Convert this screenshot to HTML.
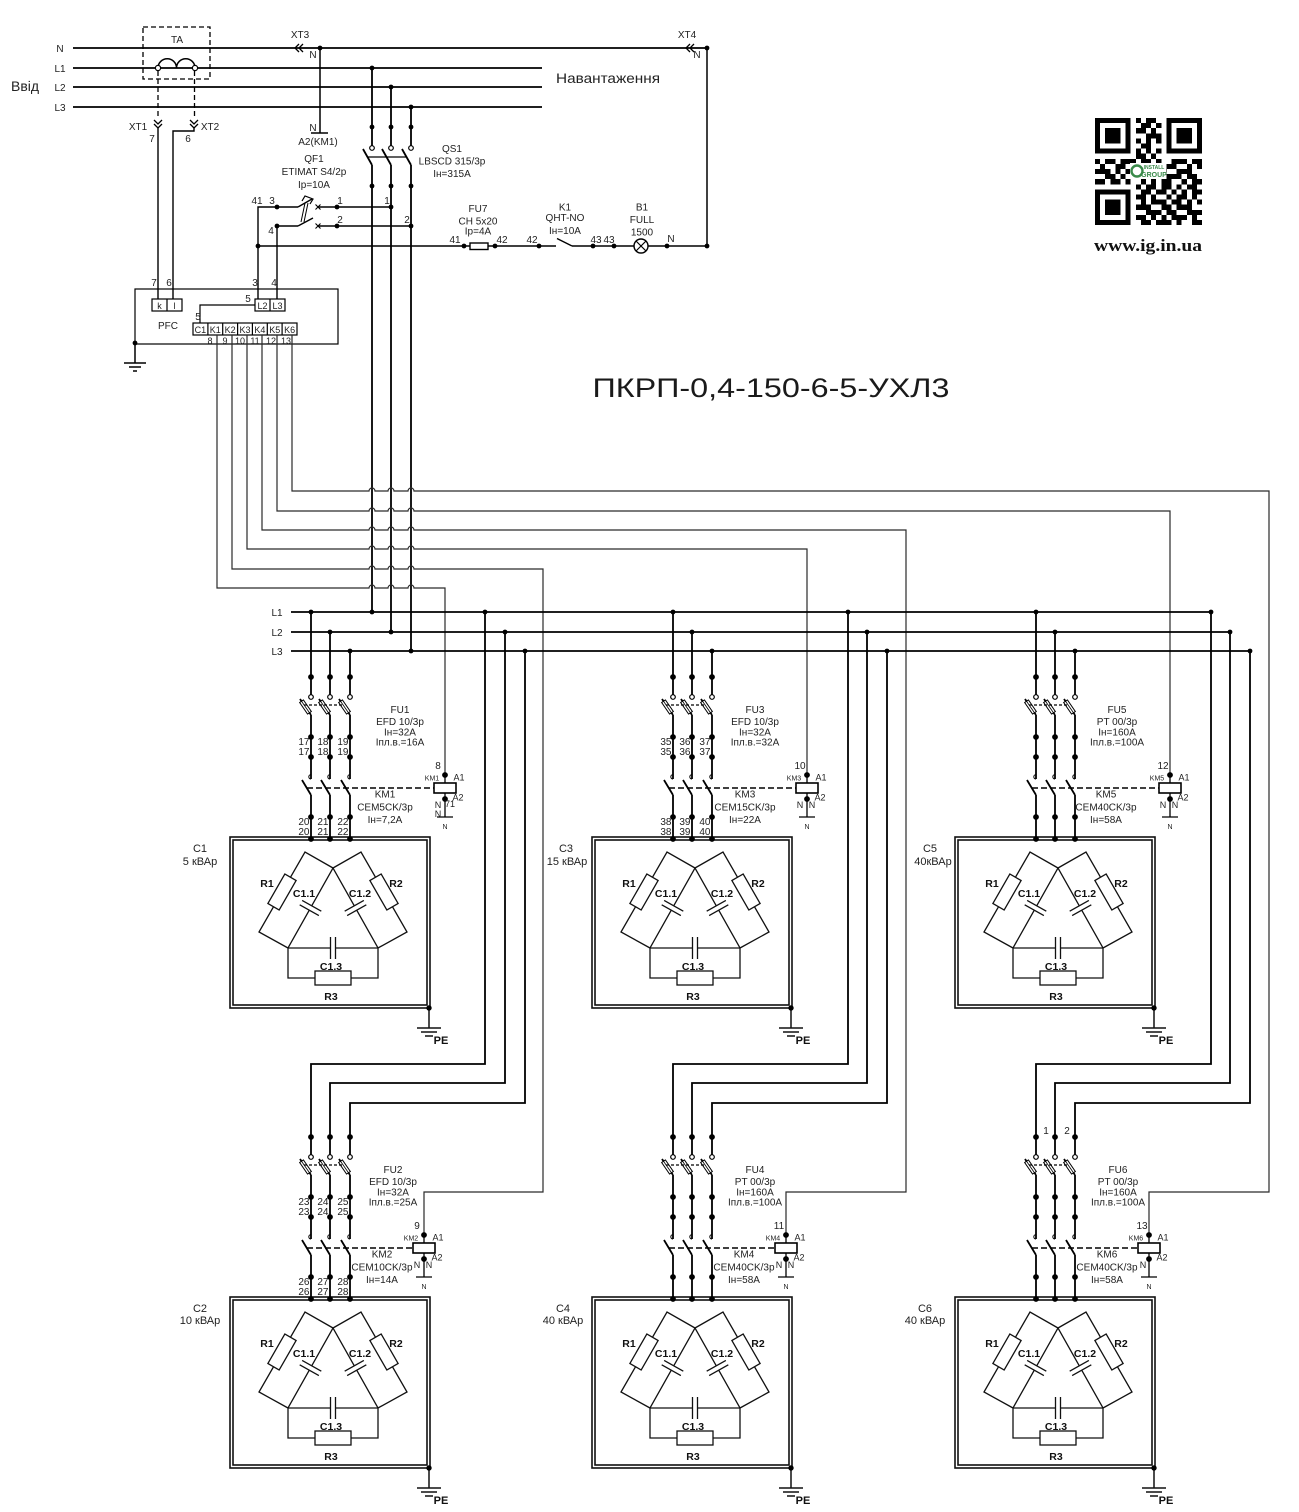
<!DOCTYPE html>
<html><head><meta charset="utf-8"><style>
html,body{margin:0;padding:0;background:#fff;}
svg{display:block;}
text{font-family:"Liberation Sans Narrow","Liberation Sans","DejaVu Sans Condensed",sans-serif;fill:#222;font-size:10px;text-anchor:middle;}
.b{font-weight:bold;font-family:"Liberation Sans",sans-serif;font-size:10.5px;fill:#111;}
.s{font-size:7px;}
.m{font-size:9px;}
.e{text-anchor:end;}
.st{text-anchor:start;}
</style></head><body>
<svg width="1299" height="1512" viewBox="0 0 1299 1512" xmlns="http://www.w3.org/2000/svg">
<rect width="1299" height="1512" fill="#fff"/>
<defs>
<circle id="d" r="2.4" fill="#000"/>
<g id="box" fill="none" stroke="#111">
 <rect x="-81" y="0" width="200" height="171" stroke-width="1.6"/>
 <rect x="-78" y="3" width="194" height="165" stroke-width="1.6"/>
 <path d="M118,171 V191 M106,191 H130 M110,195 H126 M114,199 H122" stroke-width="1.5"/>
 <circle cx="118" cy="171" r="2.7" fill="#000" stroke="none"/>
 <g stroke-width="1.3">
  <path d="M22,31 L-6,15 L-52,95 L-23,111 M22,31 L50,15 L96,95 L67,111 M-23,111 V141 H67 V111"/>
  <g transform="translate(-0.5,71) rotate(119.36)"><path d="M-46,0 H-2.5 M2.5,0 H46 M-2.5,-11 V11 M2.5,-11 V11"/></g>
  <g transform="translate(44.5,71) rotate(60.64)"><path d="M-46,0 H-2.5 M2.5,0 H46 M-2.5,-11 V11 M2.5,-11 V11"/></g>
  <path d="M-23,111 H19.5 M24.5,111 H67 M19.5,100 V122 M24.5,100 V122"/>
  <rect x="-17" y="-6.5" width="34" height="13" fill="#fff" transform="translate(-29,55) rotate(119.9)"/>
  <rect x="-17" y="-6.5" width="34" height="13" fill="#fff" transform="translate(73,55) rotate(60.1)"/>
  <rect x="4" y="134" width="36" height="14" fill="#fff"/>
 </g>
</g>
<g id="fz" stroke="#000"><rect x="-7" y="-2.3" width="14" height="4.6" fill="#fff" stroke-width="1"/><path d="M-7,0 H7" stroke-width="0.8"/></g>
<g id="sw" stroke="#000" fill="none">
 <path stroke-width="1.8" d="M0,-122 V-58 M-11,-138 L0,-122 M-9,-57 L0,-42 M0,-42 V0 M19,-122 V-58 M8,-138 L19,-122 M10,-57 L19,-42 M19,-42 V0 M39,-122 V-58 M28,-138 L39,-122 M30,-57 L39,-42 M39,-42 V0"/>
 <path stroke-width="1" d="M0,-58 a2.2,2.2 0 0 1 0,-4.4 M19,-58 a2.2,2.2 0 0 1 0,-4.4 M39,-58 a2.2,2.2 0 0 1 0,-4.4"/>
 <use href="#fz" transform="translate(-5.5,-130) rotate(55.5)"/>
 <use href="#fz" transform="translate(13.5,-130) rotate(55.5)"/>
 <use href="#fz" transform="translate(33.5,-130) rotate(55.5)"/>
 <path d="M-7,-132 H32" stroke-width="1.3" stroke-dasharray="3,2"/>
 <circle cx="0" cy="-140" r="2.3" fill="#fff" stroke-width="1.2"/>
 <circle cx="19" cy="-140" r="2.3" fill="#fff" stroke-width="1.2"/>
 <circle cx="39" cy="-140" r="2.3" fill="#fff" stroke-width="1.2"/>
 <use href="#d" x="0" y="-160"/><use href="#d" x="19" y="-160"/><use href="#d" x="39" y="-160"/>
 <use href="#d" x="0" y="-100"/><use href="#d" x="19" y="-100"/><use href="#d" x="39" y="-100"/>
 <use href="#d" x="0" y="-80"/><use href="#d" x="19" y="-80"/><use href="#d" x="39" y="-80"/>
 <use href="#d" x="0" y="-20"/><use href="#d" x="19" y="-20"/><use href="#d" x="39" y="-20"/>
 <use href="#d" x="0" y="2"/><use href="#d" x="19" y="2"/><use href="#d" x="39" y="2"/>
</g>
<g id="coil" stroke="#000" fill="none">
 <path d="M0,-62 V-54 M0,-44 V-20 M-8,-20 H8" stroke-width="1.3"/>
 <rect x="-11" y="-54" width="22" height="10" fill="#fff" stroke-width="1.6"/>
 <use href="#d" x="0" y="-62"/><use href="#d" x="0" y="-38"/>
</g>
</defs>

<!-- ===== TOP INPUT SECTION ===== -->
<g stroke="#000" stroke-width="1.8" fill="none">
 <path d="M73,48 H707 M73,68 H542 M73,87 H542 M73,107 H542"/>
 <path d="M320,48 V133 M311,133 H328" stroke-width="1.5"/>
 <path d="M707,48 V246" stroke-width="1.5"/>
 <path d="M372,68 V145.5 M391,87 V145.5 M411,107 V145.5 M363,149 L372,165 M382,149 L391,165 M402,149 L411,165 M372,165 V612 M391,165 V632 M411,165 V651"/>
 <path d="M367,157 H407" stroke-width="1.2"/>
</g>
<g stroke="#000" fill="none" stroke-width="1.3">
 <path d="M299,44 L295,48 L299,52 M303,44 L299,48 L303,52"/>
 <path d="M690,44 L686,48 L690,52 M694,44 L690,48 L694,52"/>
 <path d="M154,120 L158,124 L162,120 M154,124 L158,128 L162,124 M190,120 L194,124 L198,120 M190,124 L194,128 L198,124"/>
 <rect x="143" y="27" width="67" height="52" stroke-dasharray="5,3"/>
 <path d="M158,71 V119 M194.5,71 V119" stroke-dasharray="5,3"/>
 <path d="M158,68 a9.25,9.25 0 0 1 18.5,0 a9.25,9.25 0 0 1 18.5,0" stroke-width="1.5"/>
 <path d="M158,127 V299 M194,127 V131 H173 V299" stroke-width="1.4"/>
</g>
<circle cx="158" cy="68" r="2.6" fill="#fff" stroke="#000" stroke-width="1.2"/>
<circle cx="195" cy="68" r="2.6" fill="#fff" stroke="#000" stroke-width="1.2"/>
<use href="#d" x="320" y="48"/><use href="#d" x="707" y="48"/>
<use href="#d" x="372" y="68"/><use href="#d" x="391" y="87"/><use href="#d" x="411" y="107"/>
<use href="#d" x="372" y="127"/><use href="#d" x="391" y="127"/><use href="#d" x="411" y="127"/>
<use href="#d" x="372" y="186"/><use href="#d" x="391" y="186"/><use href="#d" x="411" y="186"/>
<circle cx="372" cy="148" r="2.3" fill="#fff" stroke="#000" stroke-width="1.2"/>
<circle cx="391" cy="148" r="2.3" fill="#fff" stroke="#000" stroke-width="1.2"/>
<circle cx="411" cy="148" r="2.3" fill="#fff" stroke="#000" stroke-width="1.2"/>

<!-- QF1 and control circuit -->
<g stroke="#000" fill="none" stroke-width="1.4">
 <path d="M258,299 V207 H298 M277,299 V226 H298"/>
 <path d="M298,207 L312,199 M298,226 L313,218"/>
 <path d="M305,203 L301,222 M308,203 L304,222" stroke-width="1"/>
 <path d="M302,201 L305,196 L313,199 L310,204" stroke-width="1.2"/>
 <path d="M315.5,204.5 L320.5,209.5 M320.5,204.5 L315.5,209.5 M315.5,223.5 L320.5,228.5 M320.5,223.5 L315.5,228.5" stroke-width="1.1"/>
 <path d="M318,207 H391 M318,226 H411"/>
 <path d="M258,246 H470 M488,246 H556 M572,246 H634 M648,246 H707"/>
 <rect x="470" y="243" width="18" height="6.5" fill="#fff"/>
 <path d="M557,238.5 L572,246"/>
 <circle cx="641" cy="246" r="7" fill="#fff"/>
 <path d="M636,241 L646,251 M646,241 L636,251" stroke-width="1.2"/>
</g>
<use href="#d" x="277" y="207"/><use href="#d" x="277" y="226"/>
<use href="#d" x="337" y="207"/><use href="#d" x="337" y="226"/>
<use href="#d" x="391" y="207"/><use href="#d" x="411" y="226"/>
<use href="#d" x="258" y="246"/><use href="#d" x="464" y="246"/><use href="#d" x="495" y="246"/>
<use href="#d" x="539" y="246"/><use href="#d" x="593" y="246"/><use href="#d" x="614" y="246"/>
<use href="#d" x="667" y="246"/><use href="#d" x="707" y="246"/>

<!-- PFC controller -->
<g stroke="#000" fill="none" stroke-width="1.2">
 <rect x="135" y="289" width="203" height="55"/>
 <rect x="152" y="299" width="30" height="12" fill="#fff"/><path d="M167,299 V311"/>
 <rect x="255" y="299" width="30" height="12" fill="#fff"/><path d="M270,299 V311"/>
 <path d="M255,305 H200 V323"/>
 <rect x="193" y="323" width="104" height="12" fill="#fff"/>
 <path d="M207.9,323 V335 M222.7,323 V335 M237.6,323 V335 M252.4,323 V335 M267.3,323 V335 M282.1,323 V335"/>
 <path d="M135,343 V363 M124,363 H146 M129,367 H141 M133,371 H137" stroke-width="1.5"/>
</g>
<use href="#d" x="135" y="343"/>

<!-- control routes with jumps -->
<g stroke="#2a2a2a" fill="none" stroke-width="1.2">
 <path d="M217,335 V588 H369 a3,3 0 0 1 6,0 H388 a3,3 0 0 1 6,0 H408 a3,3 0 0 1 6,0 H445 V775"/>
 <path d="M232,335 V569 H369 a3,3 0 0 1 6,0 H388 a3,3 0 0 1 6,0 H408 a3,3 0 0 1 6,0 H543 V1192 H424 V1235"/>
 <path d="M247,335 V549 H369 a3,3 0 0 1 6,0 H388 a3,3 0 0 1 6,0 H408 a3,3 0 0 1 6,0 H807 V775"/>
 <path d="M262,335 V530 H369 a3,3 0 0 1 6,0 H388 a3,3 0 0 1 6,0 H408 a3,3 0 0 1 6,0 H906 V1192 H786 V1235"/>
 <path d="M277,335 V511 H369 a3,3 0 0 1 6,0 H388 a3,3 0 0 1 6,0 H408 a3,3 0 0 1 6,0 H1170 V775"/>
 <path d="M292,335 V491 H369 a3,3 0 0 1 6,0 H388 a3,3 0 0 1 6,0 H408 a3,3 0 0 1 6,0 H1269 V1192 H1149 V1235"/>
</g>

<!-- Buses -->
<g stroke="#000" fill="none" stroke-width="1.8">
 <path d="M291,612 H1211 M291,632 H1230 M291,651 H1250"/>
 <!-- upper module feeds -->
 <path d="M311,612 V695 M330,632 V695 M350,651 V695"/>
 <path d="M673,612 V695 M692,632 V695 M712,651 V695"/>
 <path d="M1036,612 V695 M1055,632 V695 M1075,651 V695"/>
 <!-- lower module feeds -->
 <path d="M485,612 V1064 H311 V1155 M505,632 V1083 H330 V1155 M525,651 V1103 H350 V1155"/>
 <path d="M848,612 V1064 H673 V1155 M867,632 V1083 H692 V1155 M887,651 V1103 H712 V1155"/>
 <path d="M1211,612 V1064 H1036 V1155 M1230,632 V1083 H1055 V1155 M1250,651 V1103 H1075 V1155"/>
</g>
<g>
<use href="#d" x="311" y="612"/><use href="#d" x="372" y="612"/><use href="#d" x="485" y="612"/><use href="#d" x="673" y="612"/><use href="#d" x="848" y="612"/><use href="#d" x="1036" y="612"/><use href="#d" x="1211" y="612"/>
<use href="#d" x="330" y="632"/><use href="#d" x="391" y="632"/><use href="#d" x="505" y="632"/><use href="#d" x="692" y="632"/><use href="#d" x="867" y="632"/><use href="#d" x="1055" y="632"/><use href="#d" x="1230" y="632"/>
<use href="#d" x="350" y="651"/><use href="#d" x="411" y="651"/><use href="#d" x="525" y="651"/><use href="#d" x="712" y="651"/><use href="#d" x="887" y="651"/><use href="#d" x="1075" y="651"/><use href="#d" x="1250" y="651"/>
</g>

<!-- Modules -->
<use href="#box" x="311" y="837"/><use href="#sw" x="311" y="837"/><use href="#coil" x="445" y="837"/>
<use href="#box" x="311" y="1297"/><use href="#sw" x="311" y="1297"/><use href="#coil" x="424" y="1297"/>
<use href="#box" x="673" y="837"/><use href="#sw" x="673" y="837"/><use href="#coil" x="807" y="837"/>
<use href="#box" x="673" y="1297"/><use href="#sw" x="673" y="1297"/><use href="#coil" x="786" y="1297"/>
<use href="#box" x="1036" y="837"/><use href="#sw" x="1036" y="837"/><use href="#coil" x="1170" y="837"/>
<use href="#box" x="1036" y="1297"/><use href="#sw" x="1036" y="1297"/><use href="#coil" x="1149" y="1297"/>
<g stroke="#000" stroke-width="1.6" stroke-dasharray="6,3" fill="none">
 <path d="M307,788 H434 M307,1248 H413 M669,788 H796 M669,1248 H775 M1032,788 H1159 M1032,1248 H1138"/>
</g>

<!-- QR code -->
<g transform="translate(1095,118) scale(5.1)" fill="#000" shape-rendering="crispEdges">
<path d="M0 0h7v1h-7z M8 0h1v1h-1z M10 0h2v1h-2z M14 0h7v1h-7z
M0 1h1v1h-1z M6 1h1v1h-1z M9 1h2v1h-2z M12 1h1v1h-1z M14 1h1v1h-1z M20 1h1v1h-1z
M0 2h1v1h-1z M2 2h3v1h-3z M6 2h1v1h-1z M8 2h2v1h-2z M11 2h1v1h-1z M14 2h1v1h-1z M16 2h3v1h-3z M20 2h1v1h-1z
M0 3h1v1h-1z M2 3h3v1h-3z M6 3h1v1h-1z M10 3h3v1h-3z M14 3h1v1h-1z M16 3h3v1h-3z M20 3h1v1h-1z
M0 4h1v1h-1z M2 4h3v1h-3z M6 4h1v1h-1z M8 4h1v1h-1z M10 4h1v1h-1z M12 4h1v1h-1z M14 4h1v1h-1z M16 4h3v1h-3z M20 4h1v1h-1z
M0 5h1v1h-1z M6 5h1v1h-1z M9 5h2v1h-2z M14 5h1v1h-1z M20 5h1v1h-1z
M0 6h7v1h-7z M8 6h1v1h-1z M10 6h1v1h-1z M12 6h1v1h-1z M14 6h7v1h-7z
M8 7h2v1h-2z M11 7h1v1h-1z
M0 8h1v1h-1z M2 8h2v1h-2z M5 8h3v1h-3z M9 8h2v1h-2z M12 8h1v1h-1z M15 8h3v1h-3z M19 8h2v1h-2z
M1 9h1v1h-1z M4 9h2v1h-2z M8 9h1v1h-1z M10 9h3v1h-3z M14 9h2v1h-2z M18 9h1v1h-1z M20 9h1v1h-1z
M0 10h3v1h-3z M4 10h1v1h-1z M6 10h1v1h-1z M8 10h2v1h-2z M12 10h2v1h-2z M16 10h3v1h-3z
M2 11h2v1h-2z M5 11h1v1h-1z M7 11h2v1h-2z M10 11h2v1h-2z M14 11h3v1h-3z M18 11h2v1h-2z
M0 12h2v1h-2z M3 12h2v1h-2z M6 12h1v1h-1z M9 12h1v1h-1z M11 12h1v1h-1z M13 12h2v1h-2z M17 12h1v1h-1z M19 12h2v1h-2z
M8 13h1v1h-1z M10 13h2v1h-2z M13 13h2v1h-2z M16 13h1v1h-1z M18 13h2v1h-2z
M0 14h7v1h-7z M9 14h2v1h-2z M12 14h2v1h-2z M15 14h1v1h-1z M17 14h1v1h-1z M19 14h2v1h-2z
M0 15h1v1h-1z M6 15h1v1h-1z M8 15h2v1h-2z M11 15h1v1h-1z M14 15h1v1h-1z M16 15h2v1h-2z M19 15h1v1h-1z
M0 16h1v1h-1z M2 16h3v1h-3z M6 16h1v1h-1z M9 16h1v1h-1z M11 16h3v1h-3z M15 16h2v1h-2z M18 16h1v1h-1z M20 16h1v1h-1z
M0 17h1v1h-1z M2 17h3v1h-3z M6 17h1v1h-1z M8 17h3v1h-3z M13 17h2v1h-2z M16 17h3v1h-3z
M0 18h1v1h-1z M2 18h3v1h-3z M6 18h1v1h-1z M10 18h3v1h-3z M14 18h2v1h-2z M18 18h3v1h-3z
M0 19h1v1h-1z M6 19h1v1h-1z M8 19h2v1h-2z M11 19h1v1h-1z M13 19h1v1h-1z M15 19h3v1h-3z M19 19h1v1h-1z
M0 20h7v1h-7z M9 20h2v1h-2z M12 20h3v1h-3z M16 20h1v1h-1z M19 20h2v1h-2z"/>
</g>
<rect x="1130" y="163" width="36" height="16" fill="#fff"/>
<circle cx="1137" cy="171" r="5.5" fill="none" stroke="#3a8a4a" stroke-width="2.4"/>
<text x="1154" y="169" style="font-size:5px;fill:#3a8a4a;font-weight:bold">INSTALL</text>
<text x="1154" y="177" style="font-size:7px;fill:#3a8a4a;font-weight:bold">GROUP</text>
<text x="1148" y="251" style="font-family:'Liberation Serif',serif;font-weight:bold;font-size:17px;fill:#111" textLength="108" lengthAdjust="spacingAndGlyphs">www.ig.in.ua</text>

<!-- ===== TEXT: top ===== -->
<text x="60" y="52">N</text>
<text x="60" y="72">L1</text>
<text x="60" y="91">L2</text>
<text x="60" y="111">L3</text>
<text x="25" y="91" style="font-size:14px" textLength="28" lengthAdjust="spacingAndGlyphs">Ввід</text>
<text x="177" y="43">TA</text>
<text x="138" y="130">XT1</text>
<text x="152" y="142">7</text>
<text x="210" y="130">XT2</text>
<text x="188" y="142">6</text>
<text x="300" y="38">XT3</text>
<text x="313" y="58">N</text>
<text x="687" y="38">XT4</text>
<text x="697" y="58">N</text>
<text x="313" y="131">N</text>
<text x="318" y="145">A2(KM1)</text>
<text x="608" y="83" class="st" style="font-size:14px;text-anchor:middle" textLength="104" lengthAdjust="spacingAndGlyphs">Навантаження</text>
<text x="452" y="152">QS1</text>
<text x="452" y="164.5">LBSCD 315/3p</text>
<text x="452" y="177">Iн=315A</text>
<text x="314" y="162">QF1</text>
<text x="314" y="175">ETIMAT S4/2p</text>
<text x="314" y="188">Ip=10A</text>
<text x="257" y="204">41</text>
<text x="272" y="204">3</text>
<text x="271" y="234">4</text>
<text x="340" y="204">1</text>
<text x="387" y="204">1</text>
<text x="340" y="223">2</text>
<text x="407" y="223">2</text>
<text x="478" y="212">FU7</text>
<text x="478" y="224.5">CH 5x20</text>
<text x="478" y="234.5">Ip=4A</text>
<text x="565" y="210.5">K1</text>
<text x="565" y="221">QHT-NO</text>
<text x="565" y="234">Iн=10A</text>
<text x="642" y="210.5">B1</text>
<text x="642" y="223">FULL</text>
<text x="642" y="235.5">1500</text>
<text x="455" y="243">41</text>
<text x="502" y="243">42</text>
<text x="532" y="243">42</text>
<text x="596" y="243">43</text>
<text x="609" y="243">43</text>
<text x="671" y="242">N</text>
<text x="154" y="286">7</text>
<text x="169" y="286">6</text>
<text x="255" y="286">3</text>
<text x="274" y="286">4</text>
<text x="248" y="302">5</text>
<text x="198" y="320">5</text>
<text x="159.5" y="309" class="m">k</text>
<text x="174.5" y="309" class="m">l</text>
<text x="262.5" y="309" class="m">L2</text>
<text x="277.5" y="309" class="m">L3</text>
<text x="168" y="329">PFC</text>
<text x="200.4" y="333" class="m">C1</text>
<text x="215.3" y="333" class="m">K1</text>
<text x="230.1" y="333" class="m">K2</text>
<text x="245" y="333" class="m">K3</text>
<text x="259.9" y="333" class="m">K4</text>
<text x="274.7" y="333" class="m">K5</text>
<text x="289.6" y="333" class="m">K6</text>
<text x="210" y="344" class="m">8</text>
<text x="225" y="344" class="m">9</text>
<text x="240" y="344" class="m">10</text>
<text x="255" y="344" class="m">11</text>
<text x="271" y="344" class="m">12</text>
<text x="286" y="344" class="m">13</text>
<text x="771" y="397" style="font-size:27px;fill:#1a1a1a" textLength="357" lengthAdjust="spacingAndGlyphs">ПКРП-0,4-150-6-5-УХЛ3</text>
<text x="277" y="616">L1</text>
<text x="277" y="636">L2</text>
<text x="277" y="655">L3</text>

<!-- ===== Module C1 ===== -->
<text x="200" y="852" style="font-size:11px">C1</text>
<text x="200" y="865" style="font-size:11px">5 кВАр</text>
<text x="400" y="713">FU1</text>
<text x="400" y="725">EFD 10/3p</text>
<text x="400" y="735.5">Iн=32A</text>
<text x="400" y="745.5">Iпл.в.=16A</text>
<text x="385" y="797.5">KM1</text>
<text x="385" y="810.5">CEM5CK/3p</text>
<text x="385" y="823">Iн=7,2A</text>
<text x="309.5" y="745" class="e">17</text><text x="309.5" y="755" class="e">17</text>
<text x="328.5" y="745" class="e">18</text><text x="328.5" y="755" class="e">18</text>
<text x="348.5" y="745" class="e">19</text><text x="348.5" y="755" class="e">19</text>
<text x="309.5" y="825" class="e">20</text><text x="309.5" y="835" class="e">20</text>
<text x="328.5" y="825" class="e">21</text><text x="328.5" y="835" class="e">21</text>
<text x="348.5" y="825" class="e">22</text><text x="348.5" y="835" class="e">22</text>
<text x="438" y="769">8</text>
<text x="432" y="780.5" class="s">KM1</text>
<text x="459" y="780.5" class="m">A1</text>
<text x="458" y="800.5" class="m">A2</text>
<text x="438" y="808" class="m">N</text>
<text x="438" y="817" class="m">N</text>
<text x="450" y="807" class="m">71</text>
<text x="445" y="829" class="s">N</text>
<text x="267" y="887" class="b">R1</text>
<text x="304" y="897" class="b">C1.1</text>
<text x="360" y="897" class="b">C1.2</text>
<text x="396" y="887" class="b">R2</text>
<text x="331" y="970" class="b">C1.3</text>
<text x="331" y="1000" class="b">R3</text>
<text x="441" y="1044" class="b" style="font-size:11px">PE</text>

<!-- ===== Module C2 ===== -->
<text x="200" y="1312" style="font-size:11px">C2</text>
<text x="200" y="1324" style="font-size:11px">10 кВАр</text>
<text x="393" y="1173">FU2</text>
<text x="393" y="1185">EFD 10/3p</text>
<text x="393" y="1195.5">Iн=32A</text>
<text x="393" y="1205.5">Iпл.в.=25A</text>
<text x="382" y="1257.5">KM2</text>
<text x="382" y="1270.5">CEM10CK/3p</text>
<text x="382" y="1283">Iн=14A</text>
<text x="309.5" y="1205" class="e">23</text><text x="309.5" y="1215" class="e">23</text>
<text x="328.5" y="1205" class="e">24</text><text x="328.5" y="1215" class="e">24</text>
<text x="348.5" y="1205" class="e">25</text><text x="348.5" y="1215" class="e">25</text>
<text x="309.5" y="1285" class="e">26</text><text x="309.5" y="1295" class="e">26</text>
<text x="328.5" y="1285" class="e">27</text><text x="328.5" y="1295" class="e">27</text>
<text x="348.5" y="1285" class="e">28</text><text x="348.5" y="1295" class="e">28</text>
<text x="417" y="1229">9</text>
<text x="411" y="1240.5" class="s">KM2</text>
<text x="438" y="1240.5" class="m">A1</text>
<text x="437" y="1260.5" class="m">A2</text>
<text x="417" y="1268" class="m">N</text>
<text x="429" y="1268" class="m">N</text>
<text x="424" y="1289" class="s">N</text>
<text x="267" y="1347" class="b">R1</text>
<text x="304" y="1357" class="b">C1.1</text>
<text x="360" y="1357" class="b">C1.2</text>
<text x="396" y="1347" class="b">R2</text>
<text x="331" y="1430" class="b">C1.3</text>
<text x="331" y="1460" class="b">R3</text>
<text x="441" y="1504" class="b" style="font-size:11px">PE</text>

<!-- ===== Module C3 ===== -->
<text x="566" y="852" style="font-size:11px">C3</text>
<text x="567" y="865" style="font-size:11px">15 кВАр</text>
<text x="755" y="713">FU3</text>
<text x="755" y="725">EFD 10/3p</text>
<text x="755" y="735.5">Iн=32A</text>
<text x="755" y="745.5">Iпл.в.=32A</text>
<text x="745" y="797.5">KM3</text>
<text x="745" y="810.5">CEM15CK/3p</text>
<text x="745" y="823">Iн=22A</text>
<text x="671.5" y="745" class="e">35</text><text x="671.5" y="755" class="e">35</text>
<text x="690.5" y="745" class="e">36</text><text x="690.5" y="755" class="e">36</text>
<text x="710.5" y="745" class="e">37</text><text x="710.5" y="755" class="e">37</text>
<text x="671.5" y="825" class="e">38</text><text x="671.5" y="835" class="e">38</text>
<text x="690.5" y="825" class="e">39</text><text x="690.5" y="835" class="e">39</text>
<text x="710.5" y="825" class="e">40</text><text x="710.5" y="835" class="e">40</text>
<text x="800" y="769">10</text>
<text x="794" y="780.5" class="s">KM3</text>
<text x="821" y="780.5" class="m">A1</text>
<text x="820" y="800.5" class="m">A2</text>
<text x="800" y="808" class="m">N</text>
<text x="812" y="808" class="m">N</text>
<text x="807" y="829" class="s">N</text>
<text x="629" y="887" class="b">R1</text>
<text x="666" y="897" class="b">C1.1</text>
<text x="722" y="897" class="b">C1.2</text>
<text x="758" y="887" class="b">R2</text>
<text x="693" y="970" class="b">C1.3</text>
<text x="693" y="1000" class="b">R3</text>
<text x="803" y="1044" class="b" style="font-size:11px">PE</text>

<!-- ===== Module C4 ===== -->
<text x="563" y="1312" style="font-size:11px">C4</text>
<text x="563" y="1324" style="font-size:11px">40 кВАр</text>
<text x="755" y="1173">FU4</text>
<text x="755" y="1185">PT 00/3p</text>
<text x="755" y="1195.5">Iн=160A</text>
<text x="755" y="1205.5">Iпл.в.=100A</text>
<text x="744" y="1257.5">KM4</text>
<text x="744" y="1270.5">CEM40CK/3p</text>
<text x="744" y="1283">Iн=58A</text>
<text x="779" y="1229">11</text>
<text x="773" y="1240.5" class="s">KM4</text>
<text x="800" y="1240.5" class="m">A1</text>
<text x="799" y="1260.5" class="m">A2</text>
<text x="779" y="1268" class="m">N</text>
<text x="791" y="1268" class="m">N</text>
<text x="786" y="1289" class="s">N</text>
<text x="629" y="1347" class="b">R1</text>
<text x="666" y="1357" class="b">C1.1</text>
<text x="722" y="1357" class="b">C1.2</text>
<text x="758" y="1347" class="b">R2</text>
<text x="693" y="1430" class="b">C1.3</text>
<text x="693" y="1460" class="b">R3</text>
<text x="803" y="1504" class="b" style="font-size:11px">PE</text>

<!-- ===== Module C5 ===== -->
<text x="930" y="852" style="font-size:11px">C5</text>
<text x="933" y="865" style="font-size:11px">40кВАр</text>
<text x="1117" y="713">FU5</text>
<text x="1117" y="725">PT 00/3p</text>
<text x="1117" y="735.5">Iн=160A</text>
<text x="1117" y="745.5">Iпл.в.=100A</text>
<text x="1106" y="797.5">KM5</text>
<text x="1106" y="810.5">CEM40CK/3p</text>
<text x="1106" y="823">Iн=58A</text>
<text x="1163" y="769">12</text>
<text x="1157" y="780.5" class="s">KM5</text>
<text x="1184" y="780.5" class="m">A1</text>
<text x="1183" y="800.5" class="m">A2</text>
<text x="1163" y="808" class="m">N</text>
<text x="1175" y="808" class="m">N</text>
<text x="1170" y="829" class="s">N</text>
<text x="992" y="887" class="b">R1</text>
<text x="1029" y="897" class="b">C1.1</text>
<text x="1085" y="897" class="b">C1.2</text>
<text x="1121" y="887" class="b">R2</text>
<text x="1056" y="970" class="b">C1.3</text>
<text x="1056" y="1000" class="b">R3</text>
<text x="1166" y="1044" class="b" style="font-size:11px">PE</text>

<!-- ===== Module C6 ===== -->
<text x="925" y="1312" style="font-size:11px">C6</text>
<text x="925" y="1324" style="font-size:11px">40 кВАр</text>
<text x="1046" y="1134">1</text>
<text x="1067" y="1134">2</text>
<text x="1118" y="1173">FU6</text>
<text x="1118" y="1185">PT 00/3p</text>
<text x="1118" y="1195.5">Iн=160A</text>
<text x="1118" y="1205.5">Iпл.в.=100A</text>
<text x="1107" y="1257.5">KM6</text>
<text x="1107" y="1270.5">CEM40CK/3p</text>
<text x="1107" y="1283">Iн=58A</text>
<text x="1142" y="1229">13</text>
<text x="1136" y="1240.5" class="s">KM6</text>
<text x="1163" y="1240.5" class="m">A1</text>
<text x="1162" y="1260.5" class="m">A2</text>
<text x="1143" y="1268" class="m">N</text>
<text x="1149" y="1289" class="s">N</text>
<text x="992" y="1347" class="b">R1</text>
<text x="1029" y="1357" class="b">C1.1</text>
<text x="1085" y="1357" class="b">C1.2</text>
<text x="1121" y="1347" class="b">R2</text>
<text x="1056" y="1430" class="b">C1.3</text>
<text x="1056" y="1460" class="b">R3</text>
<text x="1166" y="1504" class="b" style="font-size:11px">PE</text>
</svg>
</body></html>
